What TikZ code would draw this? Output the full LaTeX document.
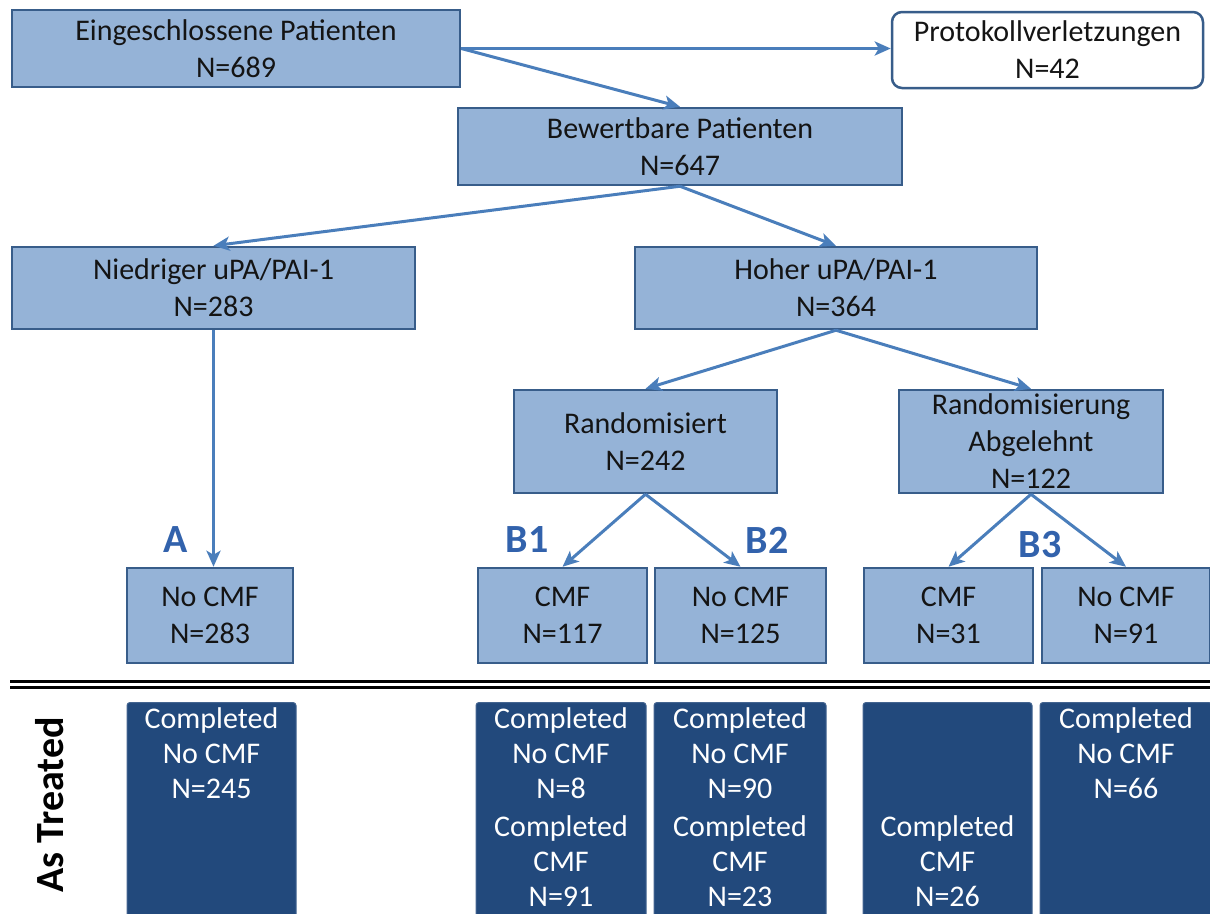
\documentclass[tikz,border=0pt]{standalone}
\usepackage{fontspec}
\setmainfont{Carlito}
\usetikzlibrary{arrows.meta}
\definecolor{boxfill}{RGB}{149,179,215}
\definecolor{boxline}{RGB}{56,93,138}
\definecolor{arrowcol}{RGB}{74,126,187}
\definecolor{darkfill}{RGB}{34,73,124}
\definecolor{labelcol}{RGB}{50,98,172}
\definecolor{txt}{RGB}{20,20,20}
\tikzset{
  box/.style={draw=boxline, line width=2.5pt, fill=boxfill, text=txt, align=center,
    inner sep=0pt, font=\fontsize{30}{37}\selectfont},
  whitebox/.style={box, fill=white, rounded corners=10pt},
  darkbox/.style={fill=darkfill, draw=darkfill!85!white, line width=1pt, rounded corners=3pt,
    inner sep=0pt, anchor=north, minimum height=240pt},
  dtext/.style={text=white, align=center, inner sep=0pt, anchor=north,
    font=\fontsize{30}{35}\selectfont},
  conn/.style={draw=arrowcol, line width=3pt, -{Stealth[length=16pt,width=14pt,inset=4pt]}},
  grp/.style={text=labelcol, font=\fontsize{40}{40}\bfseries\selectfont, inner sep=0pt},
  sideLabel/.style={font=\fontsize{40}{40}\bfseries\selectfont, rotate=90, inner sep=0pt}
}
\begin{document}
\begin{tikzpicture}[x=1pt,y=-1pt]
\useasboundingbox (0,0) rectangle (1210,913);
% top level
\node[box, minimum width=448pt, minimum height=77pt] (ein) at (236,48.5) {Eingeschlossene Patienten\\N=689};
\node[whitebox, minimum width=311pt, minimum height=76pt] (prot) at (1047.5,50) {Protokollverletzungen\\N=42};
\node[box, minimum width=444pt, minimum height=77pt] (bew) at (680,146.5) {Bewertbare Patienten\\N=647};
\node[box, minimum width=403pt, minimum height=82pt] (nied) at (213.5,288) {Niedriger uPA/PAI-1\\N=283};
\node[box, minimum width=402pt, minimum height=82pt] (hoh) at (836,288) {Hoher uPA/PAI-1\\N=364};
\node[box, minimum width=263pt, minimum height=103pt] (rand) at (645.5,441.5) {Randomisiert\\N=242};
\node[box, minimum width=264pt, minimum height=103pt] (rabl) at (1031,441.5) {Randomisierung\\Abgelehnt\\N=122};
% arm boxes
\node[box, minimum width=166pt, minimum height=95pt] (noA) at (210,615.5) {No CMF\\N=283};
\node[box, minimum width=169pt, minimum height=95pt] (cmfB1) at (562.5,615.5) {CMF\\N=117};
\node[box, minimum width=171pt, minimum height=95pt] (noB2) at (740.5,615.5) {No CMF\\N=125};
\node[box, minimum width=169pt, minimum height=95pt] (cmfB3) at (948.5,615.5) {CMF\\N=31};
\node[box, minimum width=168pt, minimum height=95pt] (noB3) at (1126,615.5) {No CMF\\N=91};
% connectors
\draw[conn] (ein.east) -- (prot.west |- ein.east);
\draw[conn] (ein.east) -- (bew.north);
\draw[conn] (bew.south) -- (nied.north);
\draw[conn] (bew.south) -- (hoh.north);
\draw[conn] (hoh.south) -- (rand.north);
\draw[conn] (hoh.south) -- (rabl.north);
\draw[conn] (nied.south) -- (nied.south |- noA.north);
\draw[conn] (rand.south) -- (cmfB1.north);
\draw[conn] (rand.south) -- (noB2.north);
\draw[conn] (rabl.south) -- (cmfB3.north);
\draw[conn] (rabl.south) -- (noB3.north);
% group labels
\node[grp] (lA) at (176,540) {A};
\node[grp] (lB1) at (527,540) {B1};
\node[grp] (lB2) at (767,540) {B2};
\node[grp] (lB3) at (1040,545) {B3};
% separator
\coordinate (sepL1) at (10,681);
\coordinate (sepR1) at (1210,681);
\coordinate (sepL2) at (10,687);
\coordinate (sepR2) at (1210,687);
\draw[line width=3pt] (sepL1) -- (sepR1);
\draw[line width=3pt] (sepL2) -- (sepR2);
% as treated
\node[sideLabel] (asT) at (50,805) {As Treated};
\node[darkbox, minimum width=169pt] (d1) at (211.5,702) {};
\node[darkbox, minimum width=170pt] (d2) at (561,702) {};
\node[darkbox, minimum width=172pt] (d3) at (740,702) {};
\node[darkbox, minimum width=169pt] (d4) at (947.5,702) {};
\node[darkbox, minimum width=172pt] (d5) at (1126,702) {};
\node[dtext] (t1) at (211.5,707) {Completed\\No CMF\\N=245};
\node[dtext] (t2) at (561,707) {Completed\\No CMF\\N=8\\[3pt]Completed\\CMF\\N=91};
\node[dtext] (t3) at (740,707) {Completed\\No CMF\\N=90\\[3pt]Completed\\CMF\\N=23};
\node[dtext] (t4) at (947.5,815) {Completed\\CMF\\N=26};
\node[dtext] (t5) at (1126,707) {Completed\\No CMF\\N=66};
\end{tikzpicture}
\end{document}
